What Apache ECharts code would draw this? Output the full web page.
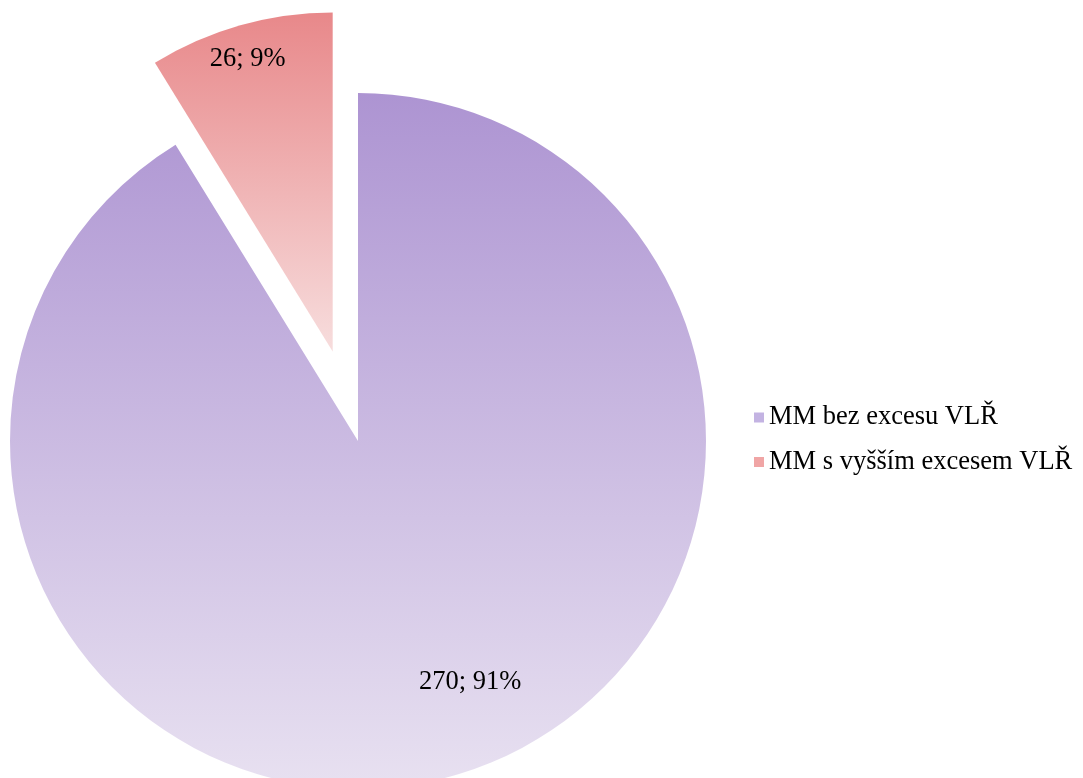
<!DOCTYPE html>
<html>
<head>
<meta charset="utf-8">
<script src="https://cdn.jsdelivr.net/npm/echarts@6/dist/echarts.min.js"></script>
<style>
  html, body { margin: 0; padding: 0; background: #ffffff; }
  #chart { width: 1083px; height: 778px; }
</style>
</head>
<body>
<div id="chart"></div>
<script>
// Categories and counts
const categories = ['MM bez excesu VLŘ', 'MM s vyšším excesem VLŘ'];
const counts = [270, 26];

// Slice fills (top → bottom gradient stops)
const sliceTop = ['#ad94d2', '#e8888a'];
const sliceBottom = ['#e8e1f1', '#f7dddd'];
const legendColors = ['#c3b3e2', '#f0a5a5'];

// Label nudges (dx, dy) relative to the default inside position
const labelShift = [[64, 71], [-38, -126]];

const FONT = '"Liberation Serif", "Times New Roman", serif';
const CENTER = [358, 441];
const hidden = 'rgba(0,0,0,0)';

function grad(i) {
  return new echarts.graphic.LinearGradient(0, 0, 0, 1, [
    { offset: 0, color: sliceTop[i] },
    { offset: 1, color: sliceBottom[i] }
  ]);
}

// Each series draws one visible slice; the other slice is kept as an
// invisible placeholder so the angles follow from the full total.
function sliceData(visibleIndex) {
  return categories.map((name, i) => {
    if (i === visibleIndex) {
      return { name, value: counts[i], itemStyle: { color: grad(i) }, selected: i === 1 };
    }
    return {
      name, value: counts[i],
      itemStyle: { color: hidden },
      label: { show: false }, labelLine: { show: false }
    };
  });
}

const labelStyle = {
  show: true,
  position: 'inside',
  formatter: '{c}; {d}%',
  fontFamily: FONT,
  fontSize: 26.5,
  color: '#000000'
};

const chart = echarts.init(document.getElementById('chart'), null, { renderer: 'canvas' });

chart.setOption({
  animation: false,
  backgroundColor: '#ffffff',
  legend: {
    orient: 'vertical',
    left: 749,
    top: 399,
    itemWidth: 10,
    itemHeight: 10,
    itemGap: 17.5,
    icon: 'rect',
    selectedMode: false,
    textStyle: { fontFamily: FONT, fontSize: 26.5, color: '#000000', lineHeight: 27 },
    data: categories.map((name, i) => ({ name, itemStyle: { color: legendColors[i] } }))
  },
  series: [
    {
      type: 'pie',
      center: CENTER,
      radius: 348,
      startAngle: 90,
      clockwise: true,
      avoidLabelOverlap: false,
      percentPrecision: 0,
      silent: true,
      emphasis: { disabled: true },
      label: labelStyle,
      labelLine: { show: false },
      labelLayout: p => ({ dx: labelShift[0][0], dy: labelShift[0][1] }),
      data: sliceData(0)
    },
    {
      type: 'pie',
      center: CENTER,
      radius: 339,
      startAngle: 90,
      clockwise: true,
      avoidLabelOverlap: false,
      percentPrecision: 0,
      selectedMode: 'single',
      selectedOffset: 93,
      silent: true,
      emphasis: { disabled: true },
      select: { itemStyle: { color: grad(1) } },
      label: labelStyle,
      labelLine: { show: false },
      labelLayout: p => ({ dx: labelShift[1][0], dy: labelShift[1][1] }),
      data: sliceData(1)
    }
  ]
});
</script>
</body>
</html>
